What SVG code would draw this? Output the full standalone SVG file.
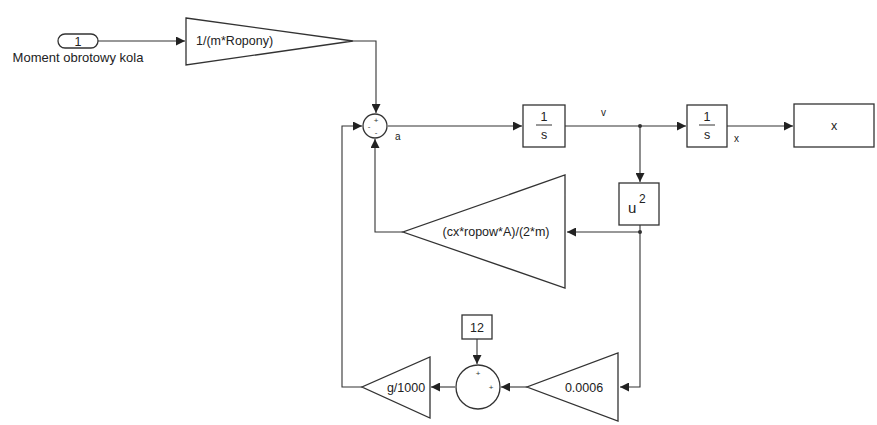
<svg xmlns="http://www.w3.org/2000/svg" width="877" height="425" viewBox="0 0 877 425">
<defs>
<marker id="arr" viewBox="0 0 10 10" refX="10" refY="5" markerWidth="9" markerHeight="9" markerUnits="userSpaceOnUse" orient="auto">
<path d="M0,0 L10,5 L0,10 z" fill="#222"/>
</marker>
<style>
.blk{fill:#fff;stroke:#333;stroke-width:1.3}
.ln{fill:none;stroke:#333;stroke-width:1.1}
.t{font-family:"Liberation Sans",Arial,sans-serif;font-size:12.5px;fill:#222}
.c{text-anchor:middle}
.s{font-family:"Liberation Sans",Arial,sans-serif;font-size:8px;fill:#333;text-anchor:middle}
</style>
</defs>
<rect width="877" height="425" fill="#fff"/>
<g id="connectors">
<path class="ln" d="M98,41 H185" marker-end="url(#arr)"/>
<path class="ln" d="M353,41 H376 V113" marker-end="url(#arr)"/>
<path class="ln" d="M388,126 H522" marker-end="url(#arr)"/>
<path class="ln" d="M565,126 H686" marker-end="url(#arr)"/>
<path class="ln" d="M640,126 V182" marker-end="url(#arr)"/>
<path class="ln" d="M727,126 H793" marker-end="url(#arr)"/>
<path class="ln" d="M640,225 V232 H567" marker-end="url(#arr)"/>
<path class="ln" d="M403,232 H375 V139" marker-end="url(#arr)"/>
<path class="ln" d="M640,232 V387 H620" marker-end="url(#arr)"/>
<path class="ln" d="M527,387 H501" marker-end="url(#arr)"/>
<path class="ln" d="M477,339 V364" marker-end="url(#arr)"/>
<path class="ln" d="M455,387 H431" marker-end="url(#arr)"/>
<path class="ln" d="M362,387 H342 V126 H362" marker-end="url(#arr)"/>
<circle cx="640" cy="126" r="2" fill="#333"/>
<circle cx="640" cy="232" r="2" fill="#333"/>
</g>
<g id="inport">
<rect class="blk" x="58" y="34" width="40" height="14" rx="7"/>
<text class="t c" x="78" y="45.5">1</text>
<text class="t c" x="78" y="62" style="font-size:13px">Moment obrotowy kola</text>
</g>
<g id="gain1">
<polygon class="blk" points="186,18 353,41 186,65"/>
<text class="t" x="196" y="45">1/(m*Ropony)</text>
</g>
<g id="sum1">
<circle class="blk" cx="375" cy="126" r="12"/>
<text class="s" x="376" y="123">+</text>
<text class="s" x="369" y="129">-</text>
<text class="s" x="376" y="135">-</text>
<text class="t" x="395" y="140" style="font-size:10px">a</text>
</g>
<g id="int1">
<rect class="blk" x="523" y="105" width="42" height="42"/>
<text class="t c" x="544" y="121">1</text>
<line x1="536" y1="125" x2="552" y2="125" stroke="#333" stroke-width="1"/>
<text class="t c" x="544" y="139">s</text>
<text class="t" x="601" y="116" style="font-size:10px">v</text>
</g>
<g id="int2">
<rect class="blk" x="687" y="105" width="40" height="42"/>
<text class="t c" x="707" y="121">1</text>
<line x1="699" y1="125" x2="715" y2="125" stroke="#333" stroke-width="1"/>
<text class="t c" x="707" y="139">s</text>
<text class="t" x="734" y="142" style="font-size:10px">x</text>
</g>
<g id="out">
<rect class="blk" x="794" y="104" width="80" height="43"/>
<text class="t c" x="834" y="130">x</text>
</g>
<g id="square">
<rect class="blk" x="619" y="183" width="40" height="42"/>
<text class="t" x="628" y="213" style="font-size:15px">u</text>
<text class="t" x="639" y="203" style="font-size:12px">2</text>
</g>
<g id="gainDrag">
<polygon class="blk" points="565,175 565,288 403,232"/>
<text class="t c" x="496" y="236">(cx*ropow*A)/(2*m)</text>
</g>
<g id="gainK">
<polygon class="blk" points="618,353 618,421 527,387"/>
<text class="t c" x="584" y="392">0.0006</text>
</g>
<g id="const12">
<rect class="blk" x="462" y="315" width="30" height="24"/>
<text class="t c" x="477" y="332">12</text>
</g>
<g id="sum2">
<circle class="blk" cx="478" cy="387" r="22"/>
<text class="s" x="478" y="376">+</text>
<text class="s" x="491" y="390">+</text>
</g>
<g id="gainG">
<polygon class="blk" points="430,357 430,418 362,387"/>
<text class="t c" x="406" y="392">g/1000</text>
</g>
</svg>
